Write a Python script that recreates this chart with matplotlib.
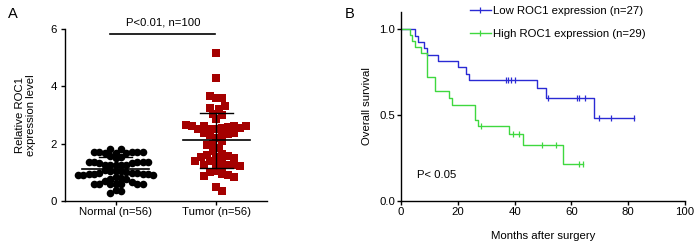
import matplotlib
matplotlib.use("Agg")
import matplotlib.pyplot as plt
import numpy as np
from matplotlib.lines import Line2D

plt.rcParams["font.family"] = ["Liberation Sans", "DejaVu Sans"]
plt.rcParams["font.size"] = 8.2

# ── Panel A data ──
groups = ["Normal (n=56)", "Tumor (n=56)"]
normal_vals = [1.80, 1.80,
               1.70, 1.71, 1.69, 1.70, 1.68, 1.71, 1.67, 1.70,
               1.58, 1.55, 1.50,
               1.36, 1.35, 1.37, 1.34, 1.33, 1.36, 1.35,
               1.26, 1.25, 1.27, 1.24, 1.26,
               1.08, 1.06, 1.05, 1.03, 1.02,
               0.98, 0.96, 0.95, 0.93, 0.94, 0.97, 0.91, 0.92, 0.95, 0.90,
               0.82, 0.80, 0.78, 0.76,
               0.70, 0.66,
               0.60, 0.61, 0.59, 0.60, 0.58, 0.61, 0.60,
               0.38, 0.36, 0.28]
tumor_vals = [5.15, 4.30, 3.65, 3.60, 3.60, 3.30, 3.25, 3.20, 3.05, 3.00, 2.85,
              2.65, 2.62, 2.60, 2.63, 2.58, 2.60,
              2.55, 2.52, 2.50, 2.55, 2.50,
              2.38, 2.35, 2.33, 2.36, 2.30,
              2.20, 2.10, 2.00, 1.95,
              1.85, 1.75, 1.65, 1.62,
              1.55, 1.52, 1.50, 1.58,
              1.42, 1.40, 1.38,
              1.28, 1.25, 1.22, 1.20, 1.27, 1.24,
              1.05, 1.00, 0.95, 0.92, 0.88, 0.85,
              0.50, 0.35]

# ── Panel B data (Kaplan-Meier steps) ──
low_t = [0, 5, 6, 8, 9, 13, 20, 23, 24, 48, 51, 68]
low_s = [1.0, 0.963, 0.926, 0.889, 0.852, 0.815, 0.778, 0.741, 0.704, 0.656, 0.602, 0.482]
low_end = 82
low_cens = [37, 37.8, 38.6, 40, 51.7, 62, 62.8, 64.7, 69.8, 73.8, 82]

high_t = [0, 3, 4, 5, 7, 9, 12, 17, 18, 26, 27, 38, 43, 57]
high_s = [1.0, 0.966, 0.931, 0.897, 0.862, 0.724, 0.638, 0.598, 0.558, 0.474, 0.437, 0.388, 0.326, 0.217]
high_end = 64
high_cens = [28.2, 39.4, 41.7, 49.8, 54.6, 62.8, 64]

fig = plt.figure(figsize=(6.94, 2.42), dpi=100)
axA = fig.add_axes([0.0937, 0.1694, 0.291, 0.711])
axB = fig.add_axes([0.578, 0.1694, 0.409, 0.781])


def swarm(ax, xc, vals, mind=5.6, step=2.8):
    # simple beeswarm in pixel space
    placed = []
    out = []
    for v in vals:
        px, py = ax.transData.transform((xc, v))
        cands = [0.0]
        for k in range(1, 40):
            cands += [k * step, -k * step]
        for c in cands:
            ok = True
            for qx, qy in placed:
                if (px + c - qx) ** 2 + (py - qy) ** 2 < mind ** 2:
                    ok = False
                    break
            if ok:
                placed.append((px + c, py))
                out.append(ax.transData.inverted().transform((px + c, py)))
                break
    return np.array(out)


# ── Panel A ──
axA.set_xlim(-0.5, 1.5)
axA.set_ylim(0, 6)
order_n = sorted(normal_vals, key=lambda v: abs(v - np.median(normal_vals)))
order_t = sorted(tumor_vals, key=lambda v: abs(v - np.median(tumor_vals)))
pn = swarm(axA, 0, order_n, mind=5.4, step=2.7)
pt = swarm(axA, 1, order_t, mind=6.0, step=3.0)
axA.scatter(pn[:, 0], pn[:, 1], s=30, marker="o", color="black", linewidths=0, zorder=2)
axA.scatter(pt[:, 0], pt[:, 1], s=30, marker="s", color="#a50000", linewidths=0, zorder=2)

for i, vals in enumerate([normal_vals, tumor_vals]):
    m = np.mean(vals)
    sd = np.std(vals, ddof=1)
    axA.plot([i - 0.33, i + 0.33], [m, m], color="black", lw=1.2, zorder=3)
    axA.plot([i, i], [m - sd, m + sd], color="black", lw=1.0, zorder=3)
    for yv in (m - sd, m + sd):
        axA.plot([i - 0.16, i + 0.16], [yv, yv], color="black", lw=1.0, zorder=3)

axA.plot([-0.05, 0.99], [5.82, 5.82], color="black", lw=1.2, clip_on=False)
axA.text(0.47, 6.05, "P<0.01, n=100", ha="center", va="bottom")

axA.set_xticks([0, 1])
axA.set_xticklabels(groups)
axA.set_yticks([0, 2, 4, 6])
axA.set_ylabel("Relative ROC1\nexpression level", labelpad=10)
for s in ["top", "right"]:
    axA.spines[s].set_visible(False)
for s in ["left", "bottom"]:
    axA.spines[s].set_linewidth(1.0)
axA.tick_params(direction="out", length=3, width=1.0, pad=1.5)
axA.tick_params(axis="y", pad=3)
fig.text(8 / 694, 1 - 14 / 242, "A", fontsize=10.5, va="center", ha="left")

# ── Panel B ──
blue = "#2a2ad4"
green = "#3fd83f"
axB.step(low_t + [low_end], low_s + [low_s[-1]], where="post", color=blue, lw=1.0)
axB.step(high_t + [high_end], high_s + [high_s[-1]], where="post", color=green, lw=1.0)
low_cs = [low_s[np.searchsorted(low_t, c, side="right") - 1] for c in low_cens]
high_cs = [high_s[np.searchsorted(high_t, c, side="right") - 1] for c in high_cens]
axB.plot(low_cens, low_cs, ls="none", marker="|", ms=5, mew=0.9, color=blue)
axB.plot(high_cens, high_cs, ls="none", marker="|", ms=5, mew=0.9, color=green)

axB.set_xlim(0, 100)
axB.set_ylim(0, 1.1)
axB.set_xticks([0, 20, 40, 60, 80, 100])
axB.set_yticks([0.0, 0.5, 1.0])
axB.set_yticklabels(["0.0", "0.5", "1.0"])
axB.set_xlabel("Months after surgery", labelpad=10)
axB.set_ylabel("Overall survival", labelpad=5)
for s in ["top", "right"]:
    axB.spines[s].set_visible(False)
for s in ["left", "bottom"]:
    axB.spines[s].set_linewidth(1.0)
axB.tick_params(direction="out", length=3, width=1.0, pad=1.5)
axB.text(5.5, 0.15, "P< 0.05", va="center", ha="left")

handles = [Line2D([], [], color=blue, lw=1.0, marker="|", ms=5, mew=0.9),
           Line2D([], [], color=green, lw=1.0, marker="|", ms=5, mew=0.9)]
axB.legend(handles, ["Low ROC1 expression (n=27)", "High ROC1 expression (n=29)"],
           loc="upper left", bbox_to_anchor=(0.225, 1.055), frameon=False,
           handlelength=1.9, handletextpad=0.15, labelspacing=1.1,
           numpoints=1, borderaxespad=0)
fig.text(345 / 694, 1 - 14 / 242, "B", fontsize=10.5, va="center", ha="left")

fig.savefig("out.png", dpi=100, facecolor="white")
